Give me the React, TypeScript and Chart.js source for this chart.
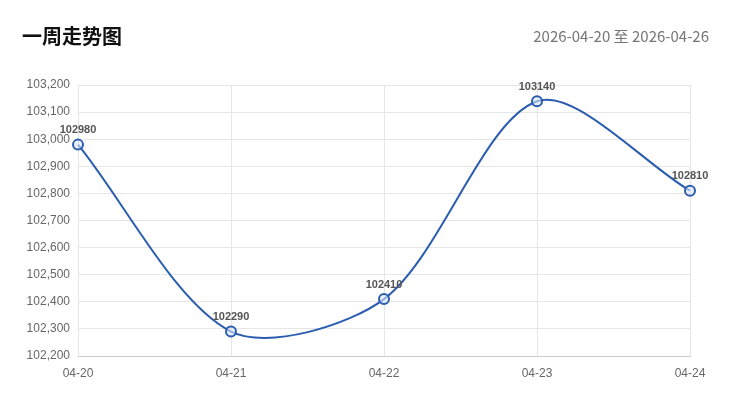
import React, { useEffect, useRef } from "react";
import { Chart, registerables } from "chart.js";

Chart.register(...registerables);

const title = "一周走势图";
const dateRange = "2026-04-20 至 2026-04-26";
const categories = ["04-20", "04-21", "04-22", "04-23", "04-24"];
const values = [102980, 102290, 102410, 103140, 102810];
const yMin = 102200;
const yMax = 103200;
const yStep = 100;

const valueLabelPlugin = {
  id: "valueLabels",
  afterDatasetsDraw(chart: any) {
    const ctx = chart.ctx;
    const meta = chart.getDatasetMeta(0);
    ctx.save();
    ctx.font = "bold 11px 'Liberation Sans', Arial, sans-serif";
    ctx.fillStyle = "#555";
    ctx.textAlign = "center";
    ctx.textBaseline = "bottom";
    meta.data.forEach((pt: any, i: number) => {
      ctx.fillText(String(chart.data.datasets[0].data[i]), pt.x, pt.y - 9);
    });
    ctx.restore();
  },
};

export default function App() {
  const canvasRef = useRef<HTMLCanvasElement | null>(null);

  useEffect(() => {
    document.body.style.margin = "0";
    const canvas = canvasRef.current;
    if (!canvas) return;
    const chart = new Chart(canvas, {
      type: "line",
      data: {
        labels: categories,
        datasets: [
          {
            data: values,
            borderColor: "#2a5cb0",
            borderWidth: 2,
            tension: 0.3,
            fill: false,
            pointRadius: 5,
            pointBorderWidth: 2,
            pointBorderColor: "#2a5cb0",
            pointBackgroundColor: "rgba(220,232,250,0.6)",
          },
        ],
      },
      options: {
        animation: false,
        responsive: false,
        maintainAspectRatio: false,
        layout: { padding: { top: 85, right: 39, left: 0, bottom: 0 } },
        plugins: {
          legend: { display: false },
          tooltip: { enabled: false },
        },
        scales: {
          x: {
            offset: false,
            grid: { color: "#e6e6e6", drawTicks: false },
            border: { color: "#cccccc" },
            ticks: {
              color: "#666",
              padding: 10,
              maxRotation: 0,
              font: { size: 12, family: "'Liberation Sans', Arial, sans-serif" },
            },
            afterFit(scale: any) {
              scale.height = 48;
            },
          },
          y: {
            min: yMin,
            max: yMax,
            grid: { color: "#e6e6e6", drawTicks: false },
            border: { display: false },
            ticks: {
              stepSize: yStep,
              color: "#666",
              padding: 8,
              font: { size: 12, family: "'Liberation Sans', Arial, sans-serif" },
              callback: (v: any) => Number(v).toLocaleString("en-US"),
            },
            afterFit(scale: any) {
              scale.width = 78;
            },
          },
        },
      },
      plugins: [valueLabelPlugin],
    });
    return () => chart.destroy();
  }, []);

  return (
    <div style={{ position: "relative", width: 729, height: 404, background: "#fff", overflow: "hidden" }}>
      <canvas ref={canvasRef} width={729} height={404} style={{ position: "absolute", left: 0, top: 0 }} />
      <div
        style={{
          position: "absolute",
          left: 22,
          top: 22,
          fontFamily: "'Noto Sans CJK SC', sans-serif",
          fontWeight: 700,
          fontSize: 20,
          lineHeight: "28px",
          color: "#111",
        }}
      >
        {title}
      </div>
      <div
        style={{
          position: "absolute",
          right: 20,
          top: 24,
          fontFamily: "'Noto Sans CJK SC', sans-serif",
          fontSize: 15,
          lineHeight: "24px",
          color: "#777",
        }}
      >
        {dateRange}
      </div>
    </div>
  );
}
